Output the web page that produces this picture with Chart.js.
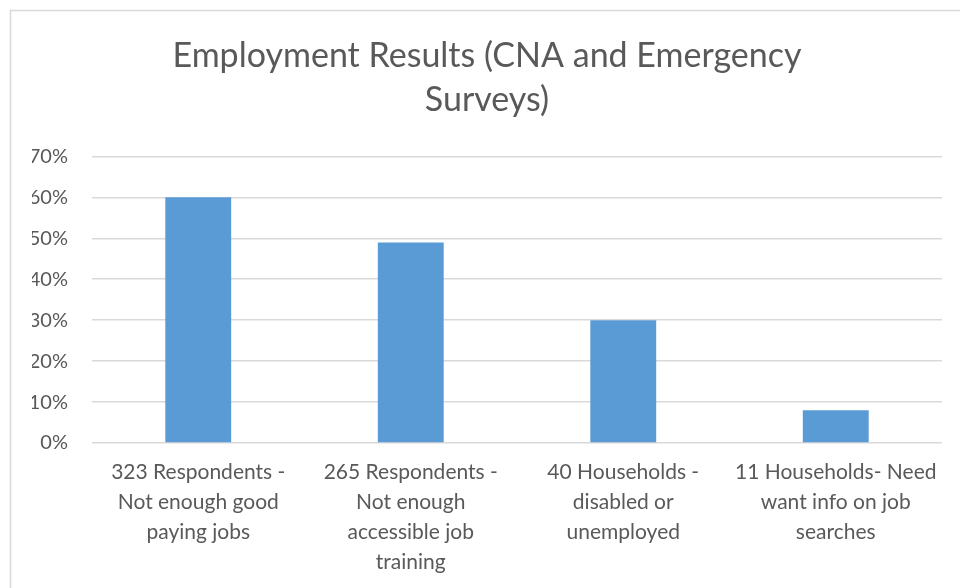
<!DOCTYPE html>
<html>
<head>
<meta charset="utf-8">
<title>Employment Results</title>
<script src="https://cdn.jsdelivr.net/npm/chart.js@4"></script>
<style>
  html, body { margin: 0; padding: 0; background: #fff; }
  #wrap { width: 960px; height: 588px; position: relative; }
</style>
</head>
<body>
<div id="wrap"><canvas id="employmentChart" width="960" height="588"></canvas></div>
<script>
// category labels, already broken into lines the way they wrap under each bar
const categories = [
  ['323 Respondents -', 'Not enough good', 'paying jobs'],
  ['265 Respondents -', 'Not enough', 'accessible job', 'training'],
  ['40 Households -', 'disabled or', 'unemployed'],
  ['11 Households- Need', 'want info on job', 'searches']
];
// share of respondents, in percent
const percentValues = [60, 49, 30, 8];
const yTicks = [0, 10, 20, 30, 40, 50, 60, 70];

const textGrey = '#595959';
const fontFamily = 'Lato, "Open Sans", sans-serif';

// white background plus the light frame around the chart
const frame = {
  id: 'frame',
  beforeDraw(chart) {
    const c = chart.ctx;
    c.save();
    c.fillStyle = '#fff';
    c.fillRect(0, 0, chart.width, chart.height);
    c.strokeStyle = '#d9d9d9';
    c.lineWidth = 1.5;
    c.beginPath();
    c.moveTo(10.5, chart.height);
    c.lineTo(10.5, 10.5);
    c.lineTo(chart.width, 10.5);
    c.stroke();
    c.restore();
  }
};

const ctx = document.getElementById('employmentChart').getContext('2d');

const employmentChart = new Chart(ctx, {
  type: 'bar',
  data: {
    labels: categories,
    datasets: [{
      data: percentValues,
      backgroundColor: '#5b9bd5',
      borderWidth: 0,
      barPercentage: 1,
      categoryPercentage: 0.31
    }]
  },
  options: {
    responsive: false,
    animation: false,
    layout: {
      padding: { top: 8, left: 32, right: 18, bottom: 10 }
    },
    plugins: {
      legend: { display: false },
      tooltip: { enabled: false },
      title: {
        display: true,
        text: ['Employment Results (CNA and Emergency', 'Surveys)'],
        color: textGrey,
        font: { family: fontFamily, size: 34, weight: 'normal', lineHeight: 1.3 },
        padding: { top: 26, bottom: 34 }
      }
    },
    scales: {
      x: {
        grid: { display: false },
        border: { display: false },
        afterFit(axis) {
          axis.height = 135;
        },
        ticks: {
          color: textGrey,
          font: { family: fontFamily, size: 21, lineHeight: 1.43 },
          padding: 6,
          maxRotation: 0,
          autoSkip: false
        }
      },
      y: {
        min: 0,
        max: 70,
        border: { display: false },
        grid: { color: '#d9d9d9', lineWidth: 1.5, drawTicks: false },
        afterBuildTicks(axis) {
          axis.ticks = yTicks.map(v => ({ value: v }));
        },
        afterFit(axis) {
          axis.width = 60;
        },
        ticks: {
          color: textGrey,
          font: { family: fontFamily, size: 20 },
          padding: 24,
          callback: v => v + '%'
        }
      }
    }
  },
  plugins: [frame]
});
</script>
</body>
</html>
